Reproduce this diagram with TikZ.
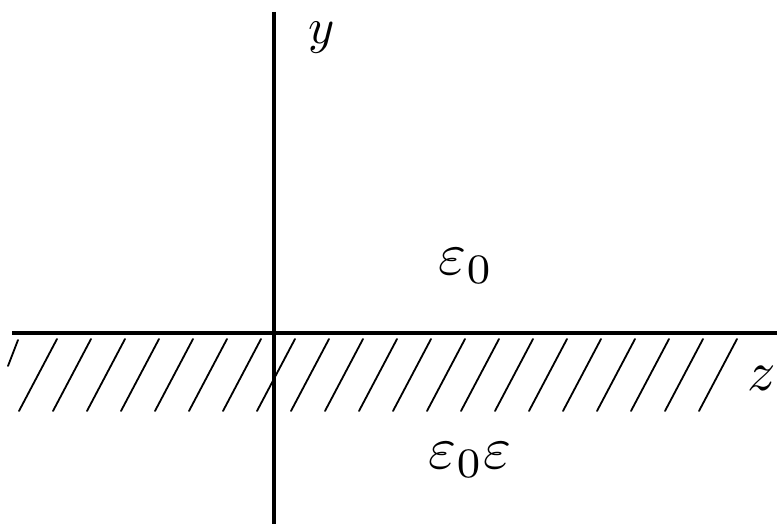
\documentclass[tikz,border=0pt]{standalone}
\usetikzlibrary{positioning}
\tikzset{
	axisline/.style={line width=3.5pt},
	hatchline/.style={line width=1.8pt, line cap=round},
	medlabel/.style={inner sep=0pt}
}
\newcommand{\biglabel}[2]{\scalebox{#1}{$#2$}}
\begin{document}
\begin{tikzpicture}[x=1pt, y=-1pt]
	\useasboundingbox (0,0) rectangle (777,524);

	% Axes
	\coordinate (zstart) at (12,333);
	\coordinate (zend) at (777,333);
	\coordinate (ytop) at (274,12);
	\coordinate (ybot) at (274,524);
	\draw[axisline] (zstart) -- (zend);
	\draw[axisline] (ytop) -- (ybot);

	% Hatching of the lower medium
	\draw[hatchline] (18,340) -- (8,366);
	\foreach \xt in {57,91,...,740} {
		\draw[hatchline] (\xt,339) -- (\xt-38,411);
	}

	% Labels
	\node[medlabel] (ylabel) at (322,38) {\biglabel{5}{y}};
	\node[medlabel] (zlabel) at (762,378) {\biglabel{5.6}{z}};
	\node[medlabel] (upper) at (466,266) {\biglabel{6}{\varepsilon_0}};
	\node[medlabel] (lower) at (470,460) {\biglabel{6}{\varepsilon_0\varepsilon}};

\end{tikzpicture}
\end{document}
